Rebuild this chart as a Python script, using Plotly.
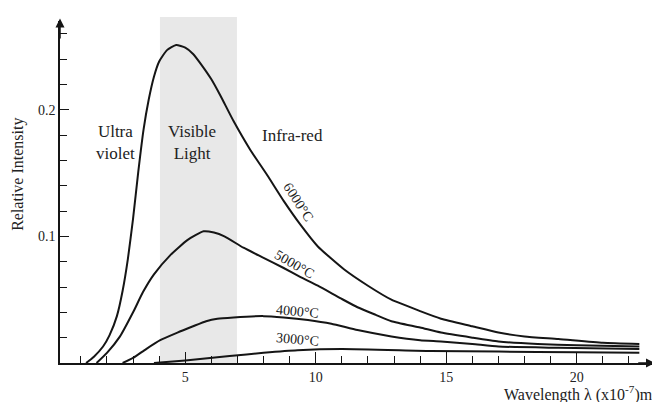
import plotly.graph_objects as go

# Wavelength (x10^-7 m) and relative intensity
l6000 = [1.2, 1.5, 1.85, 2.1, 2.38, 2.6, 2.8, 3.0, 3.2, 3.4, 3.6, 3.8, 4.0, 4.3, 4.65, 5.0, 5.3, 5.6, 6.0, 6.35, 6.85, 7.5, 8.15, 8.77, 9.42, 10.08, 11.08, 12.0, 12.9, 14.0, 14.8, 16.0, 17.0, 18.0, 19.3, 21.0, 22.4]
i6000 = [0, 0.005, 0.013, 0.022, 0.037, 0.057, 0.082, 0.114, 0.151, 0.184, 0.208, 0.226, 0.238, 0.247, 0.251, 0.249, 0.244, 0.236, 0.224, 0.211, 0.191, 0.168, 0.148, 0.128, 0.109, 0.092, 0.074, 0.061, 0.050, 0.041, 0.035, 0.029, 0.024, 0.021, 0.019, 0.016, 0.015]

l5000 = [1.6, 2.0, 2.5, 3.0, 3.38, 3.8, 4.42, 5.08, 5.7, 6.1, 6.5, 7.23, 8.0, 8.77, 9.4, 10.08, 10.96, 11.6, 12.3, 12.9, 14.0, 14.8, 16.0, 17.0, 18.5, 20.0, 22.4]
i5000 = [0, 0.008, 0.021, 0.040, 0.056, 0.070, 0.085, 0.097, 0.104, 0.103, 0.100, 0.091, 0.083, 0.075, 0.068, 0.061, 0.051, 0.044, 0.038, 0.033, 0.028, 0.024, 0.020, 0.017, 0.015, 0.014, 0.013]

l4000 = [2.6, 3.0, 3.5, 4.04, 4.7, 5.3, 5.8, 6.23, 6.85, 8.0, 8.77, 9.7, 10.6, 11.6, 12.9, 14.0, 14.8, 16.0, 17.0, 19.3, 22.4]
i4000 = [0, 0.004, 0.011, 0.018, 0.024, 0.029, 0.033, 0.035, 0.036, 0.037, 0.036, 0.034, 0.031, 0.026, 0.021, 0.018, 0.017, 0.015, 0.013, 0.012, 0.011]

l3000 = [3.8, 5.0, 6.7, 8.0, 9.3, 11.0, 14.4, 17.0, 20.0, 22.4]
i3000 = [0, 0.002, 0.0055, 0.008, 0.010, 0.011, 0.0095, 0.009, 0.0085, 0.008]

curves = [(l6000, i6000), (l5000, i5000), (l4000, i4000), (l3000, i3000)]

visible_band = [4.03, 6.98]

FONT = "Liberation Serif"
INK = "#151515"
TXT = "#222"

fig = go.Figure()
for lx, iy in curves:
    fig.add_trace(go.Scatter(x=lx, y=iy, mode="lines",
                             line=dict(color=INK, width=2, shape="spline", smoothing=0.5),
                             showlegend=False, hoverinfo="skip"))

fig.add_shape(type="rect", xref="x", yref="paper",
              x0=visible_band[0], x1=visible_band[1], y0=0, y1=1.012,
              fillcolor="#e8e8e8", line=dict(width=0), layer="below")

ann = []
ann.append(dict(x=0.2, y=0.272, ax=0.2, ay=0.255, xref="x", yref="y", axref="x", ayref="y",
                showarrow=True, arrowhead=2, arrowsize=1.2, arrowwidth=1.5, arrowcolor=INK, text=""))
ann.append(dict(x=23.0, y=0, ax=22.3, ay=0, xref="x", yref="y", axref="x", ayref="y",
                showarrow=True, arrowhead=2, arrowsize=1.2, arrowwidth=1.5, arrowcolor=INK, text=""))

def label(x, y, text, size=17, angle=0):
    ann.append(dict(x=x, y=y, xref="x", yref="y", text=text, showarrow=False,
                    xanchor="center", yanchor="middle",
                    textangle=angle, font=dict(family=FONT, size=size, color=TXT)))

label(2.31, 0.174, "Ultra<br>violet")
label(5.26, 0.174, "Visible<br>Light")
label(9.09, 0.180, "Infra-red")
label(9.35, 0.127, "6000°C", 14, 57)
label(9.2, 0.078, "5000°C", 14, 30)
label(9.3, 0.041, "4000°C", 14, 5)
label(9.3, 0.0185, "3000°C", 14, 5)

ann.append(dict(x=-0.0706, y=0.553, xref="paper", yref="paper", text="Relative Intensity",
                xanchor="center", yanchor="middle",
                textangle=-90, showarrow=False, font=dict(family=FONT, size=16, color=TXT)))
ann.append(dict(x=1.0, y=-0.088, xref="paper", yref="paper", xanchor="right", yanchor="middle",
                text="Wavelength λ (x10<sup>-7</sup>)m", showarrow=False,
                font=dict(family=FONT, size=16, color=TXT)))

# page body has an 8px default margin, so the figure is 8px smaller on each axis
fig.update_layout(
    width=652, height=394,
    margin=dict(l=52, r=5, t=13, b=39),
    paper_bgcolor="white", plot_bgcolor="rgba(0,0,0,0)",
    annotations=ann,
    font=dict(family=FONT, size=13, color=TXT),
)
fig.update_xaxes(range=[0.2, 23.0], showgrid=False, zeroline=False,
                 showline=True, linecolor=INK, linewidth=1.5,
                 tickmode="linear", tick0=0, dtick=5,
                 ticks="inside", ticklen=11, tickwidth=1.3, tickcolor=INK,
                 minor=dict(tickmode="linear", tick0=0, dtick=1, ticks="inside", ticklen=7,
                            tickwidth=1.1, tickcolor=INK, showgrid=False),
                 tickfont=dict(family=FONT, size=14))
fig.update_yaxes(range=[0, 0.27], showgrid=False, zeroline=False,
                 showline=True, linecolor=INK, linewidth=1.5,
                 tickmode="array", tickvals=[0.1, 0.2], ticktext=["0.1", "0.2"],
                 ticks="inside", ticklen=9, tickwidth=1.3, tickcolor=INK,
                 minor=dict(tickmode="linear", tick0=0, dtick=0.02, ticks="inside", ticklen=7,
                            tickwidth=1.1, tickcolor=INK, showgrid=False),
                 tickfont=dict(family=FONT, size=14))

fig.write_html("out.html")
